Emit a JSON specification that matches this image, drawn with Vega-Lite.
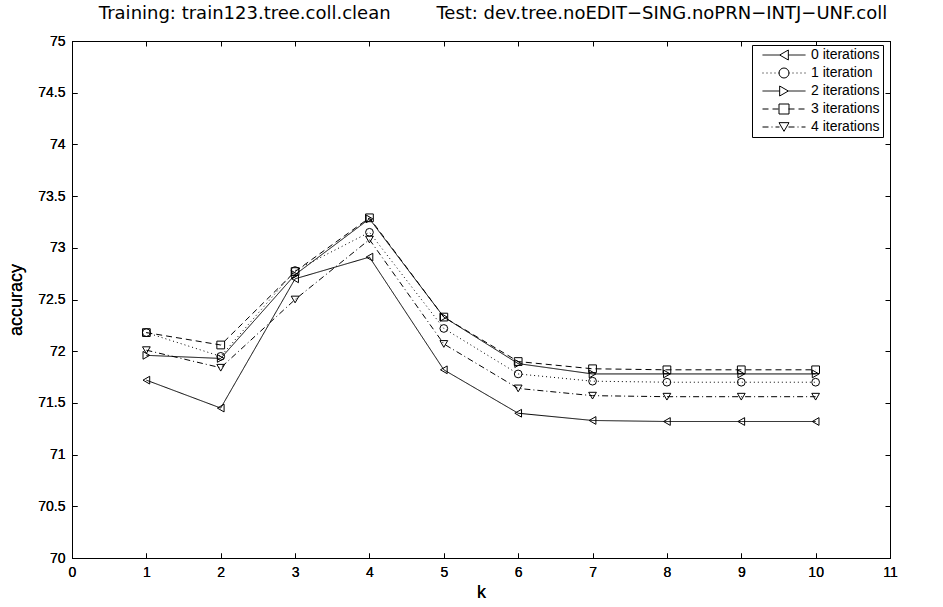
{
  "$schema": "https://vega.github.io/schema/vega-lite/v6.json",
  "width": 818,
  "height": 517,
  "autosize": {"type": "none"},
  "padding": {"left": 72, "top": 41, "right": 53, "bottom": 49},
  "background": "white",
  "title": {
    "text": "Training: train123.tree.coll.clean\u00a0\u00a0\u00a0\u00a0\u00a0\u00a0\u00a0\u00a0Test: dev.tree.noEDIT−SING.noPRN−INTJ−UNF.coll",
    "font": "DejaVu Sans",
    "fontSize": 18,
    "fontWeight": "normal",
    "color": "black",
    "anchor": "middle",
    "frame": "group",
    "offset": 11,
    "dx": 12
  },
  "config": {
    "view": {"stroke": "black", "strokeWidth": 1},
    "axis": {
      "grid": false,
      "domainColor": "black",
      "tickColor": "black",
      "labelColor": "black",
      "titleColor": "black",
      "labelFont": "Liberation Sans",
      "titleFont": "Liberation Sans",
      "titleFontWeight": "normal",
      "labelFontSize": 14,
      "titleFontSize": 18,
      "tickSize": -5
    }
  },
  "data": {
    "values": [
      {"k": 1, "series": "0 iterations", "acc": 71.72},
      {"k": 2, "series": "0 iterations", "acc": 71.45},
      {"k": 3, "series": "0 iterations", "acc": 72.70},
      {"k": 4, "series": "0 iterations", "acc": 72.91},
      {"k": 5, "series": "0 iterations", "acc": 71.82},
      {"k": 6, "series": "0 iterations", "acc": 71.40},
      {"k": 7, "series": "0 iterations", "acc": 71.33},
      {"k": 8, "series": "0 iterations", "acc": 71.32},
      {"k": 9, "series": "0 iterations", "acc": 71.32},
      {"k": 10, "series": "0 iterations", "acc": 71.32},
      {"k": 1, "series": "1 iteration", "acc": 72.18},
      {"k": 2, "series": "1 iteration", "acc": 71.95},
      {"k": 3, "series": "1 iteration", "acc": 72.78},
      {"k": 4, "series": "1 iteration", "acc": 73.15},
      {"k": 5, "series": "1 iteration", "acc": 72.22},
      {"k": 6, "series": "1 iteration", "acc": 71.78},
      {"k": 7, "series": "1 iteration", "acc": 71.71},
      {"k": 8, "series": "1 iteration", "acc": 71.70},
      {"k": 9, "series": "1 iteration", "acc": 71.70},
      {"k": 10, "series": "1 iteration", "acc": 71.70},
      {"k": 1, "series": "2 iterations", "acc": 71.96},
      {"k": 2, "series": "2 iterations", "acc": 71.93},
      {"k": 3, "series": "2 iterations", "acc": 72.74},
      {"k": 4, "series": "2 iterations", "acc": 73.28},
      {"k": 5, "series": "2 iterations", "acc": 72.33},
      {"k": 6, "series": "2 iterations", "acc": 71.88},
      {"k": 7, "series": "2 iterations", "acc": 71.78},
      {"k": 8, "series": "2 iterations", "acc": 71.78},
      {"k": 9, "series": "2 iterations", "acc": 71.78},
      {"k": 10, "series": "2 iterations", "acc": 71.78},
      {"k": 1, "series": "3 iterations", "acc": 72.18},
      {"k": 2, "series": "3 iterations", "acc": 72.06},
      {"k": 3, "series": "3 iterations", "acc": 72.77},
      {"k": 4, "series": "3 iterations", "acc": 73.29},
      {"k": 5, "series": "3 iterations", "acc": 72.33},
      {"k": 6, "series": "3 iterations", "acc": 71.90},
      {"k": 7, "series": "3 iterations", "acc": 71.83},
      {"k": 8, "series": "3 iterations", "acc": 71.82},
      {"k": 9, "series": "3 iterations", "acc": 71.82},
      {"k": 10, "series": "3 iterations", "acc": 71.82},
      {"k": 1, "series": "4 iterations", "acc": 72.01},
      {"k": 2, "series": "4 iterations", "acc": 71.84},
      {"k": 3, "series": "4 iterations", "acc": 72.50},
      {"k": 4, "series": "4 iterations", "acc": 73.08},
      {"k": 5, "series": "4 iterations", "acc": 72.07},
      {"k": 6, "series": "4 iterations", "acc": 71.64},
      {"k": 7, "series": "4 iterations", "acc": 71.57},
      {"k": 8, "series": "4 iterations", "acc": 71.56},
      {"k": 9, "series": "4 iterations", "acc": 71.56},
      {"k": 10, "series": "4 iterations", "acc": 71.56}
    ]
  },
  "encoding": {
    "x": {
      "field": "k",
      "type": "quantitative",
      "scale": {"domain": [0, 11], "nice": false},
      "axis": {"orient": "bottom", "values": [0,1,2,3,4,5,6,7,8,9,10,11], "title": "k", "titleFontWeight": "normal", "labelPadding": 12, "titlePadding": 4, "labelFlush": false}
    },
    "y": {
      "field": "acc",
      "type": "quantitative",
      "scale": {"domain": [70, 75], "nice": false, "zero": false},
      "axis": {"orient": "left", "values": [70,70.5,71,71.5,72,72.5,73,73.5,74,74.5,75], "format": ".1~f", "title": "accuracy", "titleFontWeight": "normal", "labelPadding": 12, "titlePadding": 12, "labelFlush": false}
    }
  },
  "layer": [
    {
      "mark": {"type": "line", "color": "black", "strokeWidth": 1},
      "encoding": {
        "strokeDash": {
          "field": "series",
          "type": "nominal",
          "scale": {"range": [[1, 0], [1, 3], [1, 0], [6, 4], [6, 3, 1, 3]]},
          "legend": {
            "title": null,
            "orient": "none",
            "legendX": 680,
            "legendY": 4,
            "zindex": 1,
            "padding": 3,
            "strokeColor": "black",
            "fillColor": "white",
            "symbolType": "M-4.3,0L-0.9,0M0.9,0L4.3,0",
            "symbolSize": 100,
            "symbolOffset": 22,
            "labelOffset": 20,
            "symbolStrokeColor": "black",
            "symbolStrokeWidth": 1,
            "labelFont": "Liberation Sans",
            "labelFontSize": 14,
            "labelColor": "black",
            "rowPadding": 4
          }
        }
      }
    },
    {
      "mark": {"type": "point", "filled": false, "color": "black", "size": 60, "strokeWidth": 1, "opacity": 1},
      "encoding": {
        "shape": {
          "field": "series",
          "type": "nominal",
          "scale": {
            "domain": ["0 iterations", "1 iteration", "2 iterations", "3 iterations", "4 iterations"],
            "range": ["triangle-left", "circle", "triangle-right", "square", "triangle-down"]
          },
          "legend": {
            "title": null,
            "orient": "none",
            "legendX": 680,
            "legendY": 4,
            "zindex": 2,
            "padding": 3,
            "symbolSize": 100,
            "symbolOffset": 22,
            "labelOffset": 20,
            "symbolStrokeColor": "black",
            "symbolStrokeWidth": 1,
            "symbolFillColor": "transparent",
            "labelFont": "Liberation Sans",
            "labelFontSize": 14,
            "labelExpr": "'\u00a0'",
            "rowPadding": 4
          }
        }
      }
    },
    {
      "mark": {"type": "point", "opacity": 0},
      "encoding": {
        "x": {
          "field": "k",
          "type": "quantitative",
          "axis": {"orient": "top", "values": [0,1,2,3,4,5,6,7,8,9,10,11], "labels": false, "title": null}
        },
        "y": {
          "field": "acc",
          "type": "quantitative",
          "axis": {"orient": "right", "values": [70,70.5,71,71.5,72,72.5,73,73.5,74,74.5,75], "labels": false, "title": null}
        }
      }
    }
  ]
}
